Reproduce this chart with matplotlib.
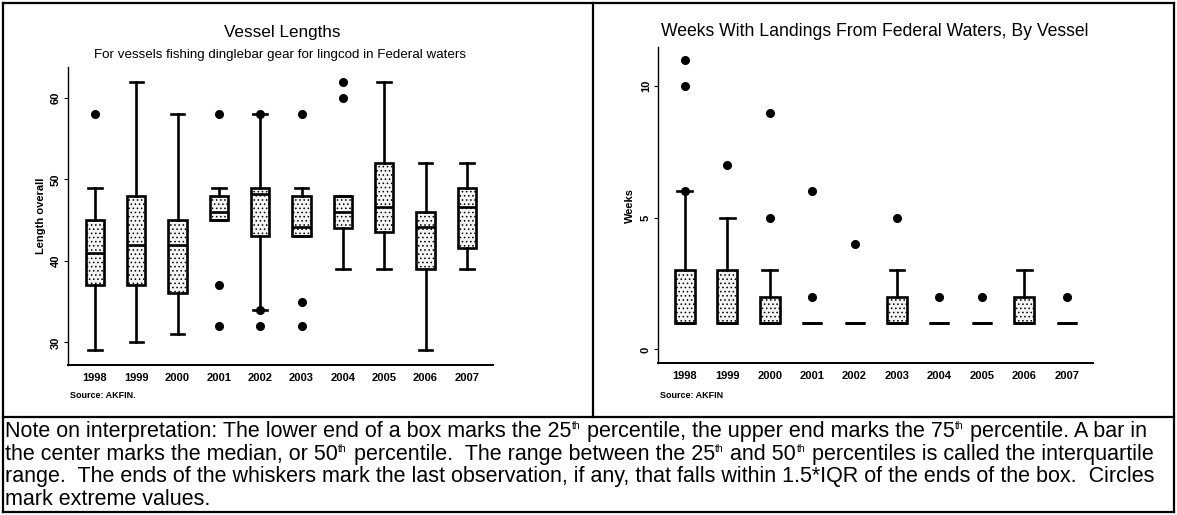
import matplotlib
matplotlib.use("Agg")
import matplotlib.pyplot as plt
from matplotlib.lines import Line2D

plt.rcParams['font.family'] = ['Liberation Sans', 'DejaVu Sans']
plt.rcParams['hatch.color'] = '#a8a8a8'
plt.rcParams['hatch.linewidth'] = 0.6

years = ['1998', '1999', '2000', '2001', '2002', '2003', '2004', '2005', '2006', '2007']

# vessel lengths (feet)
len_whislo = [29, 30, 31, 45, 34, 43, 39, 39, 29, 39]
len_q1 = [37, 37, 36, 45, 43, 43, 44, 43.6, 39, 41.6]
len_med = [41, 42, 42, 46, 48.2, 44.2, 46, 46.6, 44.2, 46.6]
len_q3 = [45, 48, 45, 48, 49, 48, 48, 52, 46, 49]
len_whishi = [49, 62, 58, 49, 58, 49, 48, 62, 52, 52]
len_fliers = [[58], [], [], [58, 37, 32], [58, 34, 32], [58, 35, 32], [62, 60], [], [], []]

# weeks with landings
wk_whislo = [1, 1, 1, 1, 1, 1, 1, 1, 1, 1]
wk_q1 = [1, 1, 1, 1, 1, 1, 1, 1, 1, 1]
wk_med = [1, 1, 1, 1, 1, 1, 1, 1, 1, 1]
wk_q3 = [3, 3, 2, 1, 1, 2, 1, 1, 2, 1]
wk_whishi = [6, 5, 3, 1, 1, 3, 1, 1, 3, 1]
wk_fliers = [[11, 10, 6], [7], [9, 5], [6, 2], [4], [5], [2], [2], [], [2]]

# "^" marks where a small raised "th" goes
note_lines = [
    "Note on interpretation: The lower end of a box marks the 25^ percentile, the upper end marks the 75^ percentile. A bar in",
    "the center marks the median, or 50^ percentile.  The range between the 25^ and 50^ percentiles is called the interquartile",
    "range.  The ends of the whiskers mark the last observation, if any, that falls within 1.5*IQR of the ends of the box.  Circles",
    "mark extreme values.",
]

W, H = 1177, 515


def make_stats(lo, q1, med, q3, hi, fl):
    return [dict(whislo=lo[i], q1=q1[i], med=med[i], q3=q3[i], whishi=hi[i], fliers=fl[i])
            for i in range(len(lo))]


def draw_box(ax, stats, width):
    lw = 1.9
    art = ax.bxp(stats, positions=range(len(stats)), widths=width, patch_artist=True,
                 showcaps=True,
                 boxprops=dict(facecolor='#f4f4f4', edgecolor='black', linewidth=lw, hatch='....'),
                 medianprops=dict(color='black', linewidth=lw),
                 whiskerprops=dict(color='black', linewidth=lw),
                 capprops=dict(color='black', linewidth=lw),
                 flierprops=dict(marker='o', markerfacecolor='black', markeredgecolor='black',
                                 markersize=5.5))
    for c in art['caps']:
        x = c.get_xdata()
        mid = (x[0] + x[1]) / 2
        c.set_xdata([mid - width * 0.37, mid + width * 0.37])
    ax.set_xticks(range(len(stats)))
    ax.set_xticklabels(years, fontsize=8, fontweight='bold')
    ax.tick_params(axis='x', length=0, pad=6)
    ax.tick_params(axis='y', length=3, width=0.8, labelsize=8, pad=2)
    ax.spines['top'].set_visible(False)
    ax.spines['right'].set_visible(False)
    ax.spines['left'].set_linewidth(1.0)
    ax.spines['bottom'].set_linewidth(1.4)


def rotate_yticks(ax):
    for t in ax.get_yticklabels():
        t.set_rotation(90)
        t.set_va('center')
        t.set_fontweight('bold')


fig = plt.figure(figsize=(W / 100, H / 100), dpi=100)

ax1 = fig.add_axes([0.0578, 0.291, 0.361, 0.579])
draw_box(ax1, make_stats(len_whislo, len_q1, len_med, len_q3, len_whishi, len_fliers), 0.44)
ax1.set_xlim(-0.65, 9.63)
ax1.set_ylim(27.2, 63.8)
ax1.set_yticks([30, 40, 50, 60])
rotate_yticks(ax1)
ax1.set_ylabel('Length overall', fontsize=8, fontweight='bold', labelpad=4)

ax2 = fig.add_axes([0.5588, 0.295, 0.3698, 0.6137])
draw_box(ax2, make_stats(wk_whislo, wk_q1, wk_med, wk_q3, wk_whishi, wk_fliers), 0.47)
ax2.set_xlim(-0.64, 9.62)
ax2.set_ylim(-0.52, 11.49)
ax2.set_yticks([0, 5, 10])
rotate_yticks(ax2)
ax2.set_ylabel('Weeks', fontsize=8, fontweight='bold', labelpad=4)

# titles and sources
fig.text(282 / W, 1 - 32 / H, 'Vessel Lengths', ha='center', va='center', fontsize=12.3)
fig.text(280 / W, 1 - 55 / H, 'For vessels fishing dinglebar gear for lingcod in Federal waters',
         ha='center', va='center', fontsize=9.6)
fig.text(875 / W, 1 - 32 / H, 'Weeks With Landings From Federal Waters, By Vessel',
         ha='center', va='center', fontsize=12.7)
fig.text(70 / W, 1 - 395 / H, 'Source: AKFIN.', ha='left', va='center', fontsize=6.5, fontweight='bold')
fig.text(660 / W, 1 - 395 / H, 'Source: AKFIN', ha='left', va='center', fontsize=6.5, fontweight='bold')

# note below the panels, drawn piece by piece so the "th" stays small
renderer = fig.canvas.get_renderer()
for i, line in enumerate(note_lines):
    base = 437 + 22.6 * i
    x = 5.0
    parts = line.split('^')
    for j, part in enumerate(parts):
        t = fig.text(x / W, 1 - base / H, part, ha='left', va='baseline', fontsize=15.5)
        x += t.get_window_extent(renderer).width
        if j < len(parts) - 1:
            s = fig.text((x + 0.5) / W, 1 - (base - 8) / H, 'th', ha='left', va='baseline', fontsize=7.5)
            x += s.get_window_extent(renderer).width + 1

# frame lines
for xy in [([3 / W, 1174 / W], [1 - 3 / H, 1 - 3 / H]),
           ([3 / W, 1174 / W], [1 - 512 / H, 1 - 512 / H]),
           ([3 / W, 3 / W], [1 - 3 / H, 1 - 512 / H]),
           ([1174 / W, 1174 / W], [1 - 3 / H, 1 - 512 / H]),
           ([593 / W, 593 / W], [1 - 3 / H, 1 - 417 / H]),
           ([3 / W, 1174 / W], [1 - 417 / H, 1 - 417 / H])]:
    fig.add_artist(Line2D(xy[0], xy[1], color='black', linewidth=1.6))

fig.savefig('out.png', dpi=100)
